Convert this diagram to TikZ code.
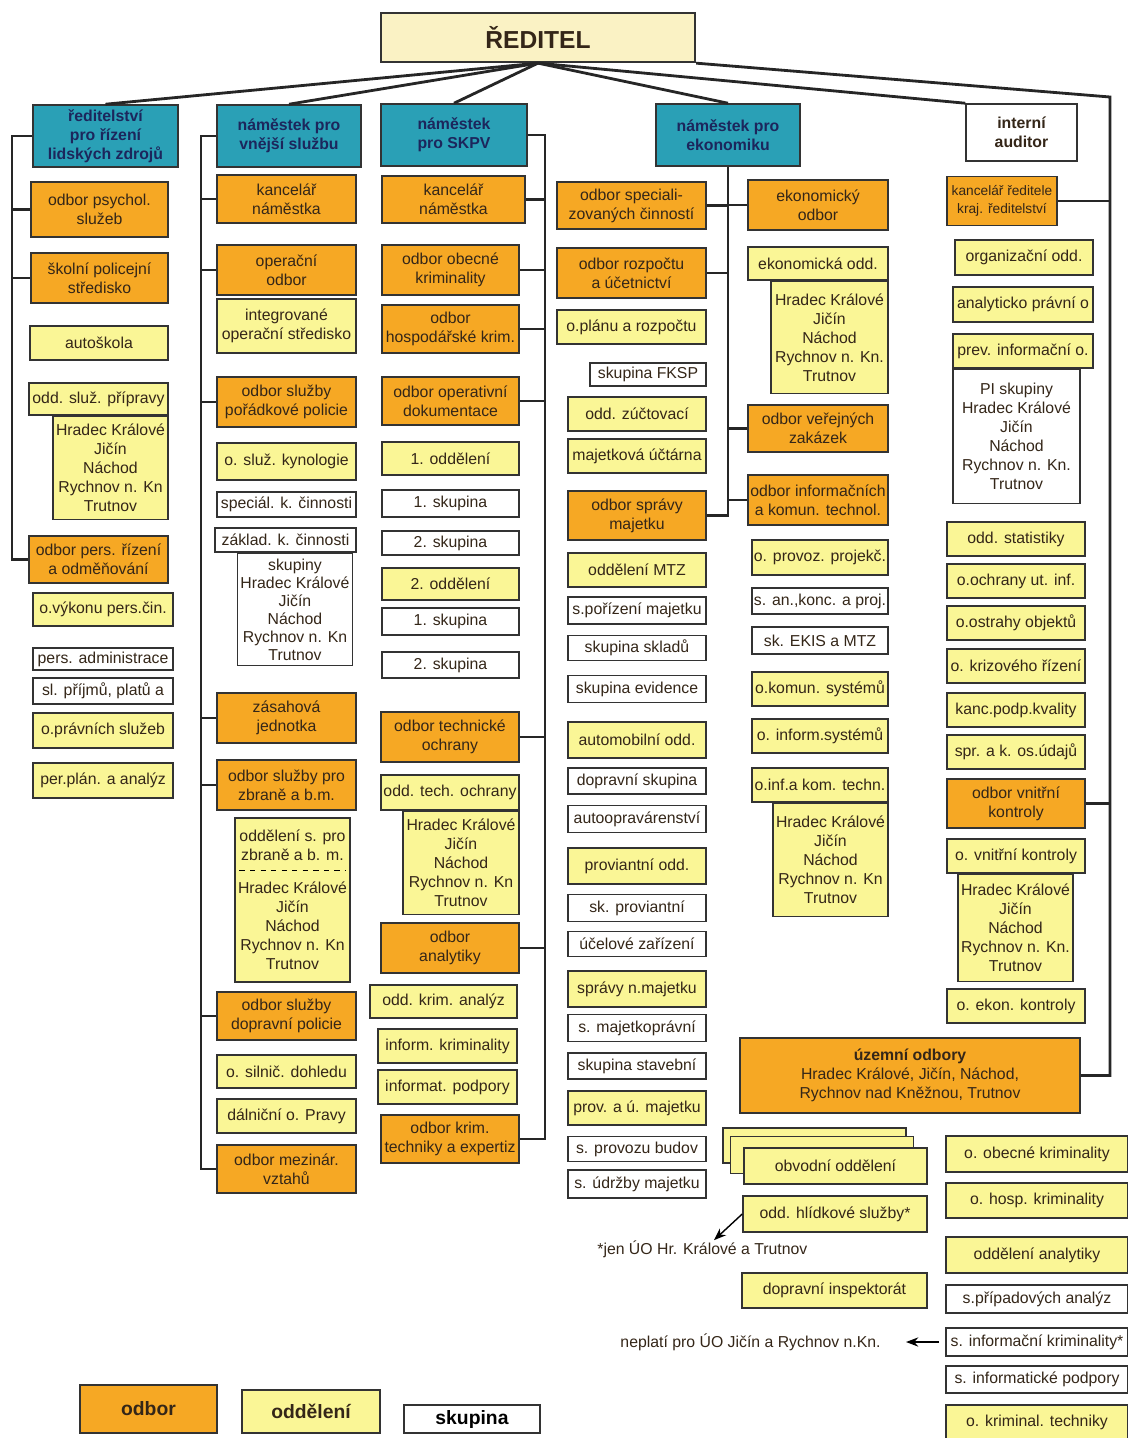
\documentclass[tikz,border=0pt]{standalone}
\usepackage{fontspec}
\setmainfont{Liberation Sans}
\usetikzlibrary{positioning}
\usetikzlibrary{arrows.meta}
\definecolor{odborfill}{RGB}{246,168,36}
\definecolor{oddfill}{RGB}{250,246,150}
\definecolor{namfill}{RGB}{42,160,182}
\definecolor{redfill}{RGB}{250,242,196}
\definecolor{namtext}{RGB}{28,38,92}
\definecolor{boxtext}{RGB}{52,38,24}

\begin{document}
\begin{tikzpicture}[x=0.02cm, y=-0.02cm,
	box/.style={draw=black!80, line width=0.9pt, inner sep=0pt, align=center, text=boxtext, font=\fontsize{9}{10.8}\selectfont},
	odbor/.style={box, fill=odborfill},
	oddel/.style={box, fill=oddfill},
	skup/.style={box, fill=white},
	nam/.style={box, fill=namfill, text=namtext, font=\fontsize{9}{10.8}\selectfont\bfseries},
	wh/.style 2 args={minimum width=#1*0.02cm, minimum height=#2*0.02cm},
	fan/.style={line width=1.6pt, black!85},
	spoj/.style={line width=1.2pt, black!85},
	pozn/.style={inner sep=0pt, text=boxtext, font=\fontsize{9}{10.8}\selectfont}]
	\useasboundingbox (0,0) rectangle (1127,1438);

	\node [box, wh={314}{49}, fill=redfill, line width=1.3pt, font=\fontsize{14}{16}\selectfont\bfseries] (red) at (538,37.5) {ŘEDITEL};
	\node [nam, wh={145}{62}] (rlz) at (105.5,136) {ředitelství\\pro řízení\\lidských zdrojů};
	\node [nam, wh={144}{62}] (vnej) at (289,136) {náměstek pro\\vnější službu};
	\node [nam, wh={146}{62}] (skpv) at (454,135) {náměstek\\pro SKPV};
	\node [nam, wh={144}{62}] (ekon) at (728,135) {náměstek pro\\ekonomiku};
	\node [skup, wh={111}{57}, font=\fontsize{9}{10.8}\selectfont\bfseries] (audit) at (1021.5,132.5) {interní\\auditor};

	% lidske zdroje
	\node [odbor, wh={137}{55}] (psy) at (99.5,209.5) {odbor psychol.\\služeb};
	\node [odbor, wh={137}{50}] (skol) at (99.5,278) {školní policejní\\středisko};
	\node [oddel, wh={138}{34}] (autosk) at (99,343) {autoškola};
	\node [oddel, wh={139}{32}] (prip) at (98.5,399) {odd. služ. přípravy};
	\node [oddel, wh={115}{103}, below left=0pt of prip.south east] (priplist) {Hradec Králové\\Jičín\\Náchod\\Rychnov n. Kn\\Trutnov};
	\node [odbor, wh={139}{47}] (pers) at (98.5,559.5) {odbor pers. řízení\\a odměňování};
	\node [oddel, wh={140}{33}] (vykon) at (103,609.5) {o.výkonu pers.čin.};
	\node [skup, wh={140}{22}] (admin) at (103,659) {pers. administrace};
	\node [skup, wh={140}{26}] (prijmy) at (103,691) {sl. příjmů, platů a};
	\node [oddel, wh={140}{35}] (pravni) at (103,730.5) {o.právních služeb};
	\node [oddel, wh={140}{35}] (perplan) at (103,780.5) {per.plán. a analýz};

	% vnejsi sluzba
	\node [odbor, wh={139}{48}] (kanc2) at (286.5,199) {kancelář\\náměstka};
	\node [odbor, wh={139}{50}] (oper) at (286.5,270) {operační\\odbor};
	\node [oddel, wh={139}{54}] (ios) at (286.5,326) {integrované\\operační středisko};
	\node [odbor, wh={139}{50}] (porad) at (286.5,402) {odbor služby\\pořádkové policie};
	\node [oddel, wh={139}{37}] (kyno) at (286.5,461.5) {o. služ. kynologie};
	\node [skup, wh={139}{25}] (specc) at (286.5,504.5) {speciál. k. činnosti};
	\node [skup, wh={141}{24}] (zakl) at (285.5,540) {základ. k. činnosti};
	\node [skup, wh={115}{112}, below left=0pt and 2pt of zakl.south east, font=\fontsize{9}{10.3}\selectfont] (zakllist) {skupiny\\Hradec Králové\\Jičín\\Náchod\\Rychnov n. Kn\\Trutnov};
	\node [odbor, wh={139}{50}] (zasah) at (286.5,718) {zásahová\\jednotka};
	\node [odbor, wh={139}{50}] (zbran) at (286.5,785) {odbor služby pro\\zbraně a b.m.};
	\node [oddel, wh={115}{164}] (zbrlist) at (292.5,900) {oddělení s. pro\\zbraně a b. m.\\[8pt]Hradec Králové\\Jičín\\Náchod\\Rychnov n. Kn\\Trutnov};
	\draw [dashed, line width=0.6pt] ([shift={(3pt,-1.06cm)}]zbrlist.north west) -- ([shift={(-3pt,-1.06cm)}]zbrlist.north east);
	\node [odbor, wh={139}{48}] (doprav) at (286.5,1016) {odbor služby\\dopravní policie};
	\node [oddel, wh={139}{33}] (silnic) at (286.5,1071.5) {o. silnič. dohledu};
	\node [oddel, wh={139}{34}] (dalnic) at (286.5,1116) {dálniční o. Pravy};
	\node [odbor, wh={139}{48}] (mezin) at (286.5,1169) {odbor mezinár.\\vztahů};

	% SKPV
	\node [odbor, wh={143}{47}] (kanc3) at (453.5,199.5) {kancelář\\náměstka};
	\node [odbor, wh={137}{50}] (obec) at (450.5,270) {odbor obecné\\kriminality};
	\node [odbor, wh={137}{48}] (hosp) at (450.5,329) {odbor\\hospodářské krim.};
	\node [odbor, wh={137}{48}] (opdok) at (450.5,401) {odbor operativní\\dokumentace};
	\node [oddel, wh={137}{33}] (odd1) at (450.5,458.5) {1. oddělení};
	\node [skup, wh={137}{27}] (sk11) at (450.5,503.5) {1. skupina};
	\node [skup, wh={137}{24}] (sk12) at (450.5,543) {2. skupina};
	\node [oddel, wh={137}{32}] (odd2) at (450.5,584) {2. oddělení};
	\node [skup, wh={137}{27}] (sk21) at (450.5,621.5) {1. skupina};
	\node [skup, wh={137}{26}] (sk22) at (450.5,665) {2. skupina};
	\node [odbor, wh={138}{50}] (techo) at (450,737) {odbor technické\\ochrany};
	\node [oddel, wh={138}{35}] (oddtech) at (450,792.5) {odd. tech. ochrany};
	\node [oddel, wh={116}{103}, below left=0pt of oddtech.south east] (techlist) {Hradec Králové\\Jičín\\Náchod\\Rychnov n. Kn\\Trutnov};
	\node [odbor, wh={138}{50}] (analyt) at (450,948) {odbor\\analytiky};
	\node [oddel, wh={147}{33}] (krimanal) at (443.5,1001.5) {odd. krim. analýz};
	\node [oddel, wh={139}{34}] (infkrim) at (447.5,1046) {inform. kriminality};
	\node [oddel, wh={139}{34}] (infpod) at (447.5,1087) {informat. podpory};
	\node [odbor, wh={138}{48}] (expert) at (450,1139) {odbor krim.\\techniky a expertiz};

	% ekonomika
	\node [odbor, wh={149}{47}] (speccin) at (631.5,205.5) {odbor speciali-\\zovaných činností};
	\node [odbor, wh={149}{50}] (rozp) at (631.5,273) {odbor rozpočtu\\a účetnictví};
	\node [oddel, wh={149}{34}] (plan) at (631.5,327) {o.plánu a rozpočtu};
	\node [skup, wh={116}{23}] (fksp) at (648,374.5) {skupina FKSP};
	\node [oddel, wh={138}{34}] (zuct) at (637,414) {odd. zúčtovací};
	\node [oddel, wh={138}{34}] (uctar) at (637,456) {majetková účtárna};
	\node [odbor, wh={138}{49}] (sprmaj) at (637,515.5) {odbor správy\\majetku};
	\node [oddel, wh={138}{34}] (mtz) at (637,570) {oddělení MTZ};
	\node [skup, wh={138}{27}] (poriz) at (637,610.5) {s.pořízení majetku};
	\node [skup, wh={138}{25}] (sklad) at (637,648) {skupina skladů};
	\node [skup, wh={138}{27}] (evid) at (637,689) {skupina evidence};
	\node [oddel, wh={138}{36}] (automob) at (637,740) {automobilní odd.};
	\node [skup, wh={138}{26}] (dopsk) at (637,781) {dopravní skupina};
	\node [skup, wh={138}{27}] (autoopr) at (637,819) {autoopravárenství};
	\node [oddel, wh={138}{36}] (provodd) at (637,866) {proviantní odd.};
	\node [skup, wh={138}{27}] (skprov) at (637,908) {sk. proviantní};
	\node [skup, wh={138}{25}] (ucel) at (637,944) {účelové zařízení};
	\node [oddel, wh={138}{36}] (sprnm) at (637,989) {správy n.majetku};
	\node [skup, wh={138}{27}] (majpr) at (637,1028) {s. majetkoprávní};
	\node [skup, wh={138}{26}] (stav) at (637,1066) {skupina stavební};
	\node [oddel, wh={138}{34}] (provu) at (637,1108) {prov. a ú. majetku};
	\node [skup, wh={138}{25}] (budov) at (637,1149) {s. provozu budov};
	\node [skup, wh={138}{28}] (udrz) at (637,1184) {s. údržby majetku};

	\node [odbor, wh={140}{50}] (ekodb) at (818,205) {ekonomický\\odbor};
	\node [oddel, wh={140}{33}] (ekodd) at (818,263.5) {ekonomická odd.};
	\node [oddel, wh={117}{112}, below left=0pt of ekodd.south east] (ekolist) {Hradec Králové\\Jičín\\Náchod\\Rychnov n. Kn.\\Trutnov};
	\node [odbor, wh={140}{47}] (verej) at (818,428.5) {odbor veřejných\\zakázek};
	\node [odbor, wh={140}{50}] (ikt) at (818,500) {odbor informačních\\a komun. technol.};
	\node [oddel, wh={136}{35}] (projek) at (820,557.5) {o. provoz. projekč.};
	\node [skup, wh={136}{26}] (ankon) at (820,601) {s. an.,konc. a proj.};
	\node [skup, wh={136}{27}] (ekis) at (820,640.5) {sk. EKIS a MTZ};
	\node [oddel, wh={136}{34}] (komsys) at (820,689) {o.komun. systémů};
	\node [oddel, wh={136}{34}] (infsys) at (820,736) {o. inform.systémů};
	\node [oddel, wh={136}{34}] (infkom) at (820,785) {o.inf.a kom. techn.};
	\node [oddel, wh={115}{113}, below left=0pt of infkom.south east] (infkomlist) {Hradec Králové\\Jičín\\Náchod\\Rychnov n. Kn\\Trutnov};

	% reditelstvi
	\node [odbor, wh={110}{49}, font=\fontsize{7.8}{10}\selectfont] (kancred) at (1002,201) {kancelář ředitele\\kraj. ředitelství};
	\node [oddel, wh={138}{35}] (organ) at (1024,257.5) {organizační odd.};
	\node [oddel, wh={140}{35}] (anpr) at (1023,304.5) {analyticko právní o};
	\node [oddel, wh={140}{34}] (prev) at (1023,351) {prev. informační o.};
	\node [skup, wh={127}{134}, below left=0pt and 13*0.02cm of prev.south east] (pilist) {PI skupiny\\Hradec Králové\\Jičín\\Náchod\\Rychnov n. Kn.\\Trutnov};
	\node [oddel, wh={138}{34}] (stat) at (1016,539) {odd. statistiky};
	\node [oddel, wh={138}{34}] (utinf) at (1016,581) {o.ochrany ut. inf.};
	\node [oddel, wh={138}{34}] (ostr) at (1016,623) {o.ostrahy objektů};
	\node [oddel, wh={138}{34}] (kriz) at (1016,666) {o. krizového řízení};
	\node [oddel, wh={138}{34}] (kval) at (1016,710) {kanc.podp.kvality};
	\node [oddel, wh={138}{34}] (osud) at (1016,752) {spr. a k. os.údajů};
	\node [odbor, wh={138}{49}] (vnkon) at (1016,803.5) {odbor vnitřní\\kontroly};
	\node [oddel, wh={138}{34}] (ovnk) at (1016,856) {o. vnitřní kontroly};
	\node [oddel, wh={115}{107}, below left=0pt and 12*0.02cm of ovnk.south east] (vnklist) {Hradec Králové\\Jičín\\Náchod\\Rychnov n. Kn.\\Trutnov};
	\node [oddel, wh={138}{34}] (ekkon) at (1016,1006) {o. ekon. kontroly};

	% uzemni odbory
	\node [odbor, wh={340}{75}] (uzemni) at (910,1075.5) {\textbf{územní odbory}\\Hradec Králové, Jičín, Náchod,\\Rychnov nad Kněžnou, Trutnov};
	\node [oddel, wh={183}{35}] (obv3) at (814.5,1145.5) {};
	\node [oddel, wh={183}{37}] (obv2) at (822,1155) {};
	\node [oddel, wh={183}{36}] (obv1) at (835.5,1166) {obvodní oddělení};
	\node [oddel, wh={184}{36}] (hlid) at (835,1214) {odd. hlídkové služby*};
	\node [pozn, anchor=west] (jen) at (597,1249) {*jen ÚO Hr. Králové a Trutnov};
	\node [oddel, wh={185}{35}] (dopinsp) at (834.5,1290.5) {dopravní inspektorát};
	\node [pozn, anchor=east] (neplati) at (881,1342) {neplatí pro ÚO Jičín a Rychnov n.Kn.};
	\node [oddel, wh={182}{36}] (obkrim) at (1037,1154) {o. obecné kriminality};
	\node [oddel, wh={182}{35}] (hospkr) at (1037,1200.5) {o. hosp. kriminality};
	\node [oddel, wh={182}{36}] (oddan) at (1037,1255) {oddělení analytiky};
	\node [skup, wh={182}{28}] (pripad) at (1037,1299) {s.případových analýz};
	\node [skup, wh={182}{28}] (infokr) at (1037,1342) {s. informační kriminality*};
	\node [skup, wh={182}{27}] (infopod) at (1037,1379.5) {s. informatické podpory};
	\node [oddel, wh={182}{35}] (krimtech) at (1037,1422.5) {o. kriminal. techniky};

	% legenda
	\node [odbor, wh={137}{48}, font=\fontsize{11}{13}\selectfont\bfseries] (legodbor) at (148.5,1409) {odbor};
	\node [oddel, wh={138}{43}, font=\fontsize{11}{13}\selectfont\bfseries] (legodd) at (311,1411.5) {oddělení};
	\node [skup, wh={136}{28}, font=\fontsize{11}{13}\selectfont\bfseries, text=black] (legsk) at (472,1419) {skupina};

	\coordinate (s1) at (12,136); \coordinate (s2) at (201,136); \coordinate (s3) at (545,135); \coordinate (rtop) at (1110,97);

	\draw [fan] (red.south) -- (rlz.north); \draw [fan] (red.south) -- (vnej.north); \draw [fan] (red.south) -- (skpv.north);
	\draw [fan] (red.south) -- (ekon.north); \draw [fan] (red.south) -- (audit.north west); \draw [fan] (red.south east) -- (rtop) |- (uzemni.east);

	\draw [spoj] (rlz.west) -- (s1) |- (pers.west); \draw [spoj] (s1) |- (psy.west); \draw [spoj] (s1) |- (skol.west);
	\draw [spoj] (vnej.west) -- (s2) |- (mezin.west); \draw [spoj] (s2) |- (kanc2.west); \draw [spoj] (s2) |- (oper.west); \draw [spoj] (s2) |- (porad.west);
	\draw [spoj] (s2) |- (zasah.west); \draw [spoj] (s2) |- (zbran.west); \draw [spoj] (s2) |- (doprav.west);
	\draw [spoj] (skpv.east) -- (s3) |- (expert.east); \draw [spoj] (s3) |- (kanc3.east); \draw [spoj] (s3) |- (obec.east); \draw [spoj] (s3) |- (hosp.east);
	\draw [spoj] (s3) |- (opdok.east); \draw [spoj] (s3) |- (techo.east); \draw [spoj] (s3) |- (analyt.east);
	\draw [spoj] (ekon.south) |- (sprmaj.east); \draw [spoj] (speccin.east) -- (speccin.east -| ekon.south); \draw [spoj] (rozp.east) -- (rozp.east -| ekon.south);
	\draw [spoj] (ekodb.west) -- (ekodb.west -| ekon.south); \draw [spoj] (verej.west) -- (verej.west -| ekon.south); \draw [spoj] (ikt.west) -- (ikt.west -| ekon.south);
	\draw [spoj] (kancred.east) -- (kancred.east -| rtop); \draw [spoj] (vnkon.east) -- (vnkon.east -| rtop);

	\draw [-{Stealth[length=7pt]}, line width=0.8pt] (hlid.west) -- ([xshift=0.1cm]jen.north -| 709,0);
	\draw [-{Stealth[length=7pt]}, line width=0.8pt] ([xshift=-0.12cm]infokr.west) -- ([xshift=0.5cm]neplati.east);
\end{tikzpicture}
\end{document}
